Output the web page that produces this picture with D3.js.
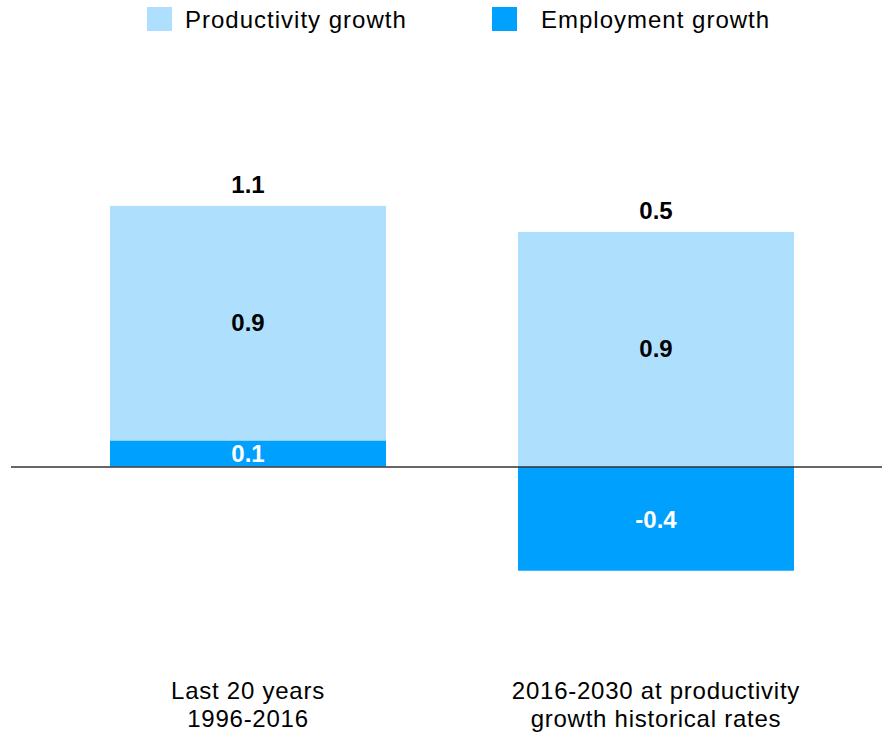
<!DOCTYPE html>
<html><head><meta charset="utf-8">
<script src="https://cdn.jsdelivr.net/npm/d3@7"></script>
<style>body{margin:0;background:#fff}svg{display:block}text{font-family:"Liberation Sans",Arial,Helvetica,sans-serif}</style>
</head><body>
<svg id="c" width="882" height="734"></svg>
<script>
const categories = [["Last 20 years","1996-2016"],["2016-2030 at productivity","growth historical rates"]];
const seriesNames = ["Productivity growth","Employment growth"];
const productivity = [0.9, 0.9];
const employment = [0.1, -0.4];
const totals = [1.1, 0.5];
const colors = {prod:"#aee0fd", emp:"#00a1fe"};

const svg = d3.select("#c");
const W = 882;
const x = d3.scaleBand().domain(d3.range(categories.length)).range([110, 794]).paddingInner(0.3235).paddingOuter(0);
const y = d3.scaleLinear().domain([-0.8, 1.6]).range([675, 49.5]);

const g = svg.append("g");
categories.forEach((c,i)=>{
  const e = employment[i], p = productivity[i];
  const base = e > 0 ? e : 0;
  g.append("rect").attr("x", x(i)).attr("width", x.bandwidth())
    .attr("y", y(Math.max(e,0))).attr("height", Math.abs(y(e)-y(0)))
    .attr("fill", colors.emp);
  g.append("rect").attr("x", x(i)).attr("width", x.bandwidth())
    .attr("y", y(base+p)).attr("height", y(base)-y(base+p))
    .attr("fill", colors.prod);
  const cx = x(i)+x.bandwidth()/2;
  g.append("text").attr("x", cx).attr("y", y(base+p/2)+8).attr("text-anchor","middle")
    .attr("font-size",24).attr("font-weight","bold").attr("fill","#000").text(p.toFixed(1));
  g.append("text").attr("x", cx).attr("y", y(e/2)+9).attr("text-anchor","middle")
    .attr("font-size",24).attr("font-weight","bold").attr("fill","#fff").text(e.toFixed(1));
  g.append("text").attr("x", cx).attr("y", y(base+p)-13).attr("text-anchor","middle")
    .attr("font-size",24).attr("font-weight","bold").attr("fill","#000").text(totals[i].toFixed(1));
  const t = g.append("text").attr("text-anchor","middle").attr("font-size",24).attr("fill","#000")
    .attr("letter-spacing", 0.75);
  c.forEach((line,j)=>t.append("tspan").attr("x", cx).attr("y", 699+28*j).text(line));
});
svg.append("line").attr("x1",11).attr("x2",W).attr("y1",y(0)+0.5).attr("y2",y(0)+0.5)
  .attr("stroke","#333").attr("stroke-width",1.5);

const leg = [{name:seriesNames[0], c:colors.prod, x:147, tx:185},{name:seriesNames[1], c:colors.emp, x:492, tx:541}];
leg.forEach(l=>{
  svg.append("rect").attr("x",l.x).attr("y",7).attr("width",25).attr("height",24).attr("fill",l.c);
  svg.append("text").attr("x",l.tx).attr("y",28).attr("font-size",24).attr("fill","#000")
    .attr("letter-spacing", 1.0).text(l.name);
});
</script>
</body></html>
